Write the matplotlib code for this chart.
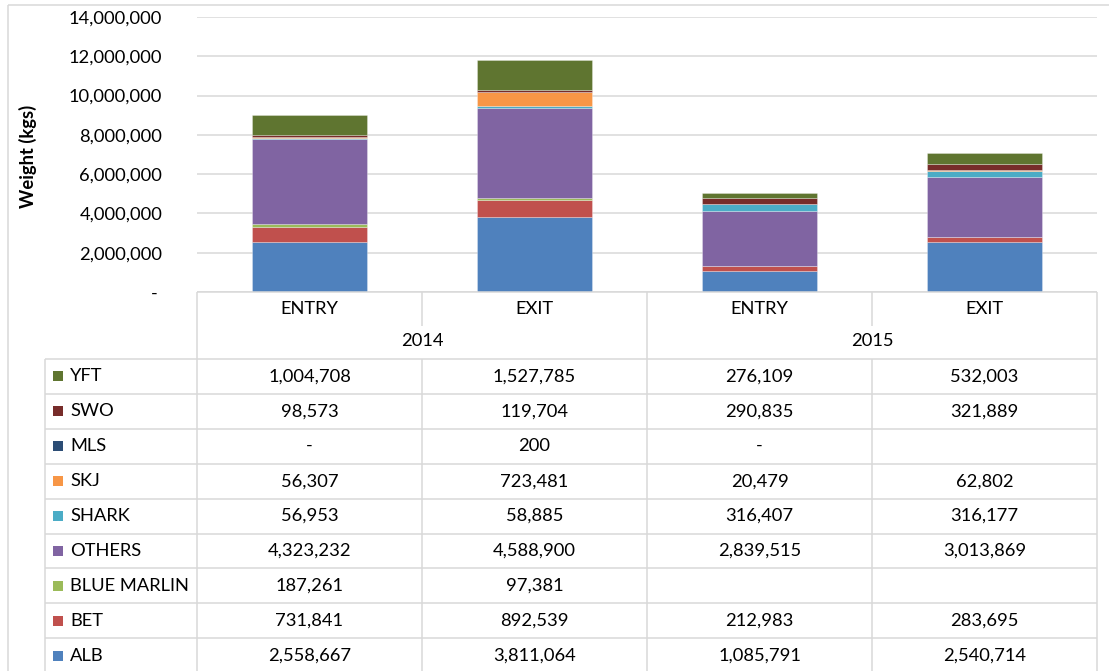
import matplotlib
matplotlib.use("Agg")
import matplotlib.pyplot as plt
from matplotlib.lines import Line2D
from matplotlib.patches import Rectangle
import numpy as np

W, H = 1109, 671

categories = ["ENTRY", "EXIT", "ENTRY", "EXIT"]
years = ["2014", "2015"]

# series from bottom of stack to top
series_names = ["ALB", "BET", "BLUE MARLIN", "OTHERS", "SHARK", "SKJ", "MLS", "SWO", "YFT"]
ALB = [2558667, 3811064, 1085791, 2540714]
BET = [731841, 892539, 212983, 283695]
BLUE_MARLIN = [187261, 97381, None, None]
OTHERS = [4323232, 4588900, 2839515, 3013869]
SHARK = [56953, 58885, 316407, 316177]
SKJ = [56307, 723481, 20479, 62802]
MLS = [0, 200, 0, None]
SWO = [98573, 119704, 290835, 321889]
YFT = [1004708, 1527785, 276109, 532003]
series_values = [ALB, BET, BLUE_MARLIN, OTHERS, SHARK, SKJ, MLS, SWO, YFT]
colors = ["#4F81BD", "#C0504D", "#9BBB59", "#8064A2", "#4BACC6",
          "#F79646", "#2C4D75", "#772C2A", "#5F7530"]

yticks = [0, 2000000, 4000000, 6000000, 8000000, 10000000, 12000000, 14000000]

FONT = "Lato"
FS = 13.2
GRID = "#D9D9D9"

plt.rcParams["font.family"] = [FONT, "DejaVu Sans"]

fig = plt.figure(figsize=(W / 100, H / 100), dpi=100)


def fx(x):
    return x / W


def fy(y):
    return 1 - y / H


def hline(y, x0, x1, color=GRID, lw=1.1):
    fig.add_artist(Line2D([fx(x0), fx(x1)], [fy(y), fy(y)], color=color, lw=lw,
                          transform=fig.transFigure, solid_capstyle="butt"))


def vline(x, y0, y1, color=GRID, lw=1.1):
    fig.add_artist(Line2D([fx(x), fx(x)], [fy(y0), fy(y1)], color=color, lw=lw,
                          transform=fig.transFigure, solid_capstyle="butt"))


# plot area
pl, pr, pt, pb = 197, 1097, 17, 292
ax = fig.add_axes([fx(pl), fy(pb), fx(pr) - fx(pl), fy(pt) - fy(pb)])
x = np.arange(len(categories))
bottom = np.zeros(len(categories))
for name, vals, c in zip(series_names, series_values, colors):
    v = np.array([0 if val is None else val for val in vals], dtype=float)
    ax.bar(x, v, width=0.51, bottom=bottom, color=c, edgecolor=(1, 1, 1, 0.5),
           linewidth=0.4, zorder=3)
    bottom += v

ax.set_xlim(-0.5, 3.5)
ax.set_ylim(0, 14000000)
ax.set_yticks(yticks)
ax.set_yticklabels([("- " if t == 0 else f"{t:,.0f}") for t in yticks],
                   fontsize=FS, fontfamily=FONT)
ax.tick_params(axis="y", length=0, pad=25)
ax.set_xticks([])
for s in ax.spines.values():
    s.set_visible(False)
ax.yaxis.grid(True, color=GRID, lw=1.1, zorder=0)
ax.set_axisbelow(True)

fig.text(fx(28), fy(156), "Weight (kgs)", rotation=90, ha="center", va="center",
         fontsize=FS, fontweight="bold", fontfamily=FONT)

# outer frame
hline(5, 8, W)
vline(8, 5, H)

# table geometry
col_x = [197, 422, 647, 872, 1097]
leg_x = 45
head_top = 292
head_mid = 326
tab_top = 359
row_h = 34.9
n_rows = len(series_names)
tab_bottom = H + 2

hline(head_top, col_x[0], col_x[-1])
vline(col_x[0], head_top, tab_bottom)
vline(col_x[2], head_top, tab_bottom)
vline(col_x[4], head_top, tab_bottom)
for cx in (col_x[1], col_x[3]):
    vline(cx, head_top, head_mid)
    vline(cx, tab_top, tab_bottom)
vline(leg_x, tab_top, tab_bottom)
for i in range(n_rows + 1):
    yy = tab_top + i * row_h
    if yy <= H:
        hline(yy, leg_x, col_x[-1])

# header texts
for i, cat in enumerate(categories):
    cx = (col_x[i] + col_x[i + 1]) / 2
    fig.text(fx(cx), fy(308.5), cat, ha="center", va="center", fontsize=FS, fontfamily=FONT)
for j, yr in enumerate(years):
    cx = (col_x[2 * j] + col_x[2 * j + 2]) / 2
    fig.text(fx(cx), fy(341), yr, ha="center", va="center", fontsize=FS, fontfamily=FONT)


def fmt(v):
    if v is None:
        return ""
    if v == 0:
        return "-"
    return f"{v:,.0f}"


# table rows: top row is last series
order = list(range(n_rows))[::-1]
for r, si in enumerate(order):
    cy = tab_top + (r + 0.5) * row_h
    fig.add_artist(Rectangle((fx(53), fy(cy + 5)), fx(10), 10 / H,
                             transform=fig.transFigure, color=colors[si], lw=0))
    fig.text(fx(70), fy(cy), series_names[si], ha="left", va="center",
             fontsize=FS, fontfamily=FONT)
    for i, v in enumerate(series_values[si]):
        cx = (col_x[i] + col_x[i + 1]) / 2
        fig.text(fx(cx), fy(cy), fmt(v), ha="center", va="center",
                 fontsize=FS, fontfamily=FONT)

fig.savefig("out.png", dpi=100)
